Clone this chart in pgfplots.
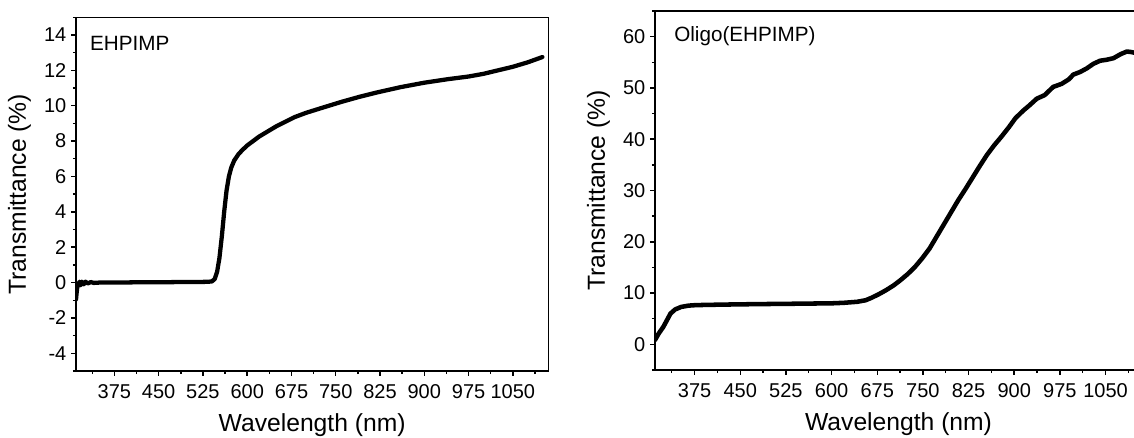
\documentclass[border=0pt]{standalone}
\usepackage{pgfplots}
\pgfplotsset{compat=1.18}
\usepackage{fontspec}
\setmainfont{Liberation Sans}

\pgfplotstableread{
x y
310 -0.95
311 -0.6
312 -0.3
314 -0.1
316 0.05
318 -0.15
320 0.05
323 -0.1
326 0.05
330 -0.05
335 0.03
340 -0.02
350 0.0
375 0.0
400 0.01
450 0.02
500 0.03
530 0.04
540 0.06
545 0.2
549 0.6
553 1.4
557 2.6
561 4.0
565 5.2
569 6.0
573 6.5
578 6.9
585 7.25
592 7.5
600 7.75
610 8.0
620 8.25
635 8.55
650 8.85
665 9.1
680 9.35
700 9.6
725 9.86
760 10.22
790 10.5
820 10.75
860 11.05
900 11.3
940 11.5
975 11.65
1000 11.8
1025 12.0
1050 12.2
1075 12.45
1100 12.75
}\ehpimp

\pgfplotstableread{
x y
310 0.85
316 2.1
323.6 3.4
330 4.8
335.4 6.0
343 6.8
353 7.3
365 7.55
377 7.65
420 7.75
480 7.85
525 7.9
560 7.95
600 8.0
620 8.1
642 8.3
656 8.6
666 9.1
678 9.8
690 10.6
702 11.5
713 12.5
725 13.7
737 15.1
749 16.8
761 18.7
772 20.9
784 23.3
796 25.7
808 28.1
820 30.3
831 32.4
843 34.7
855 36.9
867 38.8
879 40.5
891 42.3
902 44.1
915 45.6
925 46.6
937 47.9
950 48.6
964 50.2
978 50.8
990 51.7
997 52.6
1008 53.1
1019 53.8
1030 54.7
1041 55.3
1052 55.5
1063 55.8
1075 56.6
1085 57.1
1092 57.0
1100 56.8
}\oligo

\begin{document}
\begin{tikzpicture}
\pgfplotsset{
  every axis/.append style={
    scale only axis,
    axis line style={line width=1.1pt},
    tick style={line width=1.1pt, black},
    tick align=outside,
    major tick length=3.75pt,
    minor tick length=2.3pt,
    xtick pos=bottom, ytick pos=left,
    /pgf/number format/assume math mode=true,
    /pgf/number format/1000 sep={},
    ticklabel style={font=\fontsize{15}{17}\selectfont},
    xticklabel style={yshift=-3pt},
    label style={font=\fontsize{18.5}{21}\selectfont},
    xlabel style={yshift=-4pt},
    ylabel style={yshift=3pt},
    xmin=310, xmax=1110,
    xtick={375,450,...,1050},
    minor xtick={337.5,412.5,...,1087.5},
    xlabel={Wavelength (nm)},
    ylabel={Transmittance (\%)},
  }
}
\begin{axis}[
  at={(57pt,50.25pt)}, anchor=south west,
  width=354.2pt, height=265.3pt,
  ymin=-5, ymax=15,
  ytick={-4,-2,...,14},
  minor ytick={-5,-3,...,15},
]
\addplot[black, line width=3.2pt, line join=round, line cap=round] table[x=x,y=y] {\ehpimp};
\node[anchor=west, font=\fontsize{15.5}{18}\selectfont] at (rel axis cs:0.02,0.925) {EHPIMP};
\end{axis}

\begin{axis}[
  at={(491.25pt,51pt)}, anchor=south west,
  width=365.3pt, height=269.25pt,
  ymin=-5, ymax=65,
  ytick={0,10,...,60},
  minor ytick={-5,5,...,65},
]
\addplot[black, line width=3.4pt, line join=round, line cap=round] table[x=x,y=y] {\oligo};
\node[anchor=west, font=\fontsize{15.5}{18}\selectfont] at (rel axis cs:0.03,0.93) {Oligo(EHPIMP)};
\end{axis}
\pgfresetboundingbox
\useasboundingbox (0,0) rectangle (850.5pt,328.5pt);
\end{tikzpicture}
\end{document}
